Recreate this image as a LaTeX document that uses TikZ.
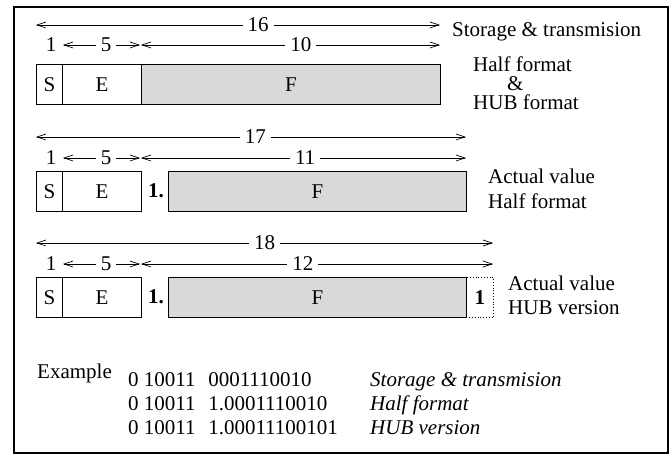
\documentclass[tikz,border=0pt]{standalone}
\usepackage{fontspec}
\setmainfont{Liberation Serif}
\usetikzlibrary{arrows.meta}
\definecolor{fgray}{RGB}{217,217,217}
\begin{document}
\begin{tikzpicture}[x=1pt,y=-1pt,
  font=\fontsize{21}{25}\selectfont,
  dim/.style={{Straight Barb[length=9pt,width=6pt]}-{Straight Barb[length=9pt,width=6pt]}, line width=0.7pt},
  dimlab/.style={fill=white, inner xsep=5pt, inner ysep=1pt},
  numlab/.style={inner sep=0pt},
  field/.style={draw, line width=0.9pt, anchor=north west, inner sep=0pt, minimum height=40pt},
  gfield/.style={field, fill=fgray},
  hubbit/.style={draw, dotted, line width=0.8pt, anchor=north west, inner sep=0pt, minimum height=40pt, minimum width=27pt},
  txt/.style={anchor=base west, inner sep=0pt},
  itxt/.style={txt, font=\fontsize{21}{25}\selectfont\itshape},
]
\useasboundingbox (0,0) rectangle (670,457);
\node[draw, line width=1.8pt, minimum width=654pt, minimum height=446pt, anchor=north west, inner sep=0pt] (frame) at (13,6) {};

% ---------- Row 1 ----------
\coordinate (r1al) at (36,25);  \coordinate (r1ar) at (440,25);
\draw[dim] (r1al) -- node[dimlab,pos=0.55] (n16) {16} (r1ar);
\node[numlab] (r1one) at (51,45) {1};
\coordinate (r1bl) at (63,45);  \coordinate (r1bm) at (140,45);
\coordinate (r1cl) at (141,45); \coordinate (r1cr) at (440,45);
\draw[dim] (r1bl) -- node[dimlab,pos=0.56] (r1five) {5} (r1bm);
\draw[dim] (r1cl) -- node[dimlab,pos=0.535] (n10) {10} (r1cr);
\node[field, minimum width=26pt] (s1) at (36,64) {S};
\node[field, minimum width=79pt] (e1) at (62,64) {E};
\node[gfield, minimum width=299pt] (f1) at (141,64) {F};
\node[txt] (st) at (452,37) {Storage \& transmision};
\node[txt] (hf) at (473,72) {Half format};
\node[txt] (amp) at (507,91) {\&};
\node[txt] (hubf) at (473,110) {HUB format};

% ---------- Row 2 ----------
\coordinate (r2al) at (36,137);  \coordinate (r2ar) at (466,137);
\draw[dim] (r2al) -- node[dimlab,pos=0.51] (n17) {17} (r2ar);
\node[numlab] (r2one) at (51,158) {1};
\coordinate (r2bl) at (63,158);  \coordinate (r2bm) at (140,158);
\coordinate (r2cl) at (141,158); \coordinate (r2cr) at (466,158);
\draw[dim] (r2bl) -- node[dimlab,pos=0.56] (r2five) {5} (r2bm);
\draw[dim] (r2cl) -- node[dimlab,pos=0.505] (n11) {11} (r2cr);
\node[field, minimum width=26pt] (s2) at (36,171) {S};
\node[field, minimum width=79pt] (e2) at (62,171) {E};
\node[numlab] (p2) at (156,191) {\bfseries 1.};
\node[gfield, minimum width=298pt] (f2) at (168,171) {F};
\node[txt] (av2) at (488,184) {Actual value};
\node[txt] (hf2) at (488,209) {Half format};

% ---------- Row 3 ----------
\coordinate (r3al) at (36,243);  \coordinate (r3ar) at (493,243);
\draw[dim] (r3al) -- node[dimlab,pos=0.5] (n18) {18} (r3ar);
\node[numlab] (r3one) at (51,264) {1};
\coordinate (r3bl) at (63,264);  \coordinate (r3bm) at (140,264);
\coordinate (r3cl) at (141,264); \coordinate (r3cr) at (493,264);
\draw[dim] (r3bl) -- node[dimlab,pos=0.56] (r3five) {5} (r3bm);
\draw[dim] (r3cl) -- node[dimlab,pos=0.46] (n12) {12} (r3cr);
\node[field, minimum width=26pt] (s3) at (36,277) {S};
\node[field, minimum width=79pt] (e3) at (62,277) {E};
\node[numlab] (p3) at (156,297) {\bfseries 1.};
\node[gfield, minimum width=298pt] (f3) at (168,277) {F};
\node[hubbit] (h3) at (466,277) {\bfseries 1};
\node[txt] (av3) at (508,291) {Actual value};
\node[txt] (hv3) at (508,315) {HUB version};

% ---------- Example ----------
\node[txt] (ex) at (37,378) {Example};
\node[txt] (v1) at (128,386) {0 10011\hspace{0.6em}0001110010};
\node[txt] (v2) at (128,410) {0 10011\hspace{0.6em}1.0001110010};
\node[txt] (v3) at (128,434) {0 10011\hspace{0.6em}1.00011100101};
\node[itxt] (i1) at (370,386) {Storage \& transmision};
\node[itxt] (i2) at (370,410) {Half format};
\node[itxt] (i3) at (370,434) {HUB version};
\end{tikzpicture}
\end{document}
